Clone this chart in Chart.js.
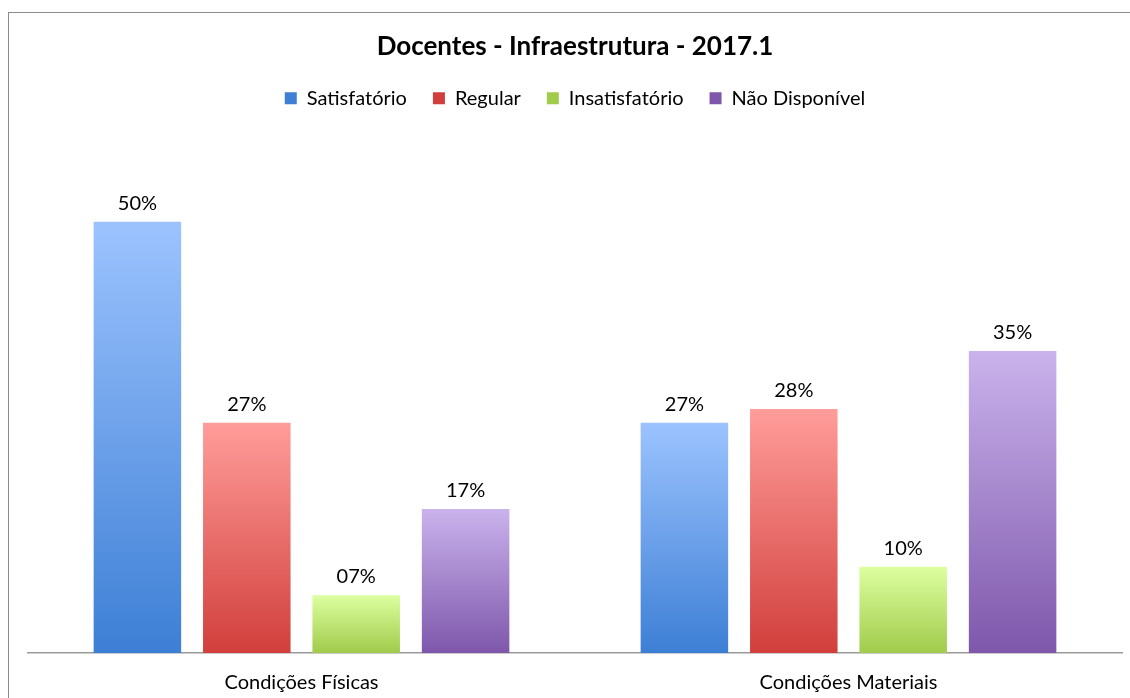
<!DOCTYPE html>
<html>
<head>
<meta charset="utf-8">
<script src="https://cdn.jsdelivr.net/npm/chart.js@4"></script>
<style>
  html, body { margin: 0; padding: 0; background: #fff; overflow: hidden; }
  #wrap { position: relative; width: 1130px; height: 698px; overflow: hidden; }
  #frame { position: absolute; left: 8px; top: 12px; width: 1130px; height: 700px; border: 1px solid #8c8c8c; box-sizing: border-box; }
  canvas { position: absolute; left: 0; top: 0; }
</style>
</head>
<body>
<div id="wrap">
  <div id="frame"></div>
  <canvas id="chart" width="1130" height="720"></canvas>
</div>
<script>
// Dados do gráfico
const categorias = ['Condições Físicas', 'Condições Materiais'];
const series = ['Satisfatório', 'Regular', 'Insatisfatório', 'Não Disponível'];
const satisfatorio = [50, 26.7];
const regular = [26.7, 28.3];
const insatisfatorio = [6.7, 10];
const naoDisponivel = [16.7, 35];

// cores (topo, base) de cada série
const cores = [
    ['#9cc3fe', '#3d7fd5'],
    ['#ff9d9a', '#d13f3c'],
    ['#ddffa0', '#a0cb4b'],
    ['#cab3ec', '#7e57ab']
];

function gradiente(i) {
    return function (ctx) {
        const chart = ctx.chart;
        if (!chart.chartArea || ctx.raw === undefined) return cores[i][1];
        const y = chart.scales.y;
        const topo = y.getPixelForValue(ctx.raw);
        const base = y.getPixelForValue(0);
        const g = chart.ctx.createLinearGradient(0, topo, 0, base);
        g.addColorStop(0, cores[i][0]);
        g.addColorStop(1, cores[i][1]);
        return g;
    };
}

const valores = [satisfatorio, regular, insatisfatorio, naoDisponivel];

// rótulos em cima das barras
const rotulos = {
    id: 'rotulos',
    afterDatasetsDraw(chart) {
        const c = chart.ctx;
        c.save();
        c.font = '20px Lato';
        c.fillStyle = '#000';
        c.textAlign = 'center';
        c.textBaseline = 'alphabetic';
        chart.data.datasets.forEach((ds, i) => {
            chart.getDatasetMeta(i).data.forEach((bar, j) => {
                const txt = String(Math.round(ds.data[j])).padStart(2, '0') + '%';
                c.fillText(txt, bar.x, bar.y - 12);
            });
        });
        c.restore();
    }
};

new Chart(document.getElementById('chart'), {
    type: 'bar',
    data: {
        labels: categorias,
        datasets: series.map((nome, i) => ({
            label: nome,
            data: valores[i],
            backgroundColor: gradiente(i),
            categoryPercentage: 0.8,
            barPercentage: 0.8
        }))
    },
    options: {
        responsive: false,
        animation: false,
        layout: { padding: { left: 28, right: 8, top: 31, bottom: 7 } },
        plugins: {
            title: {
                display: true,
                text: 'Docentes - Infraestrutura - 2017.1',
                color: '#000',
                font: { family: 'Lato', size: 26, weight: 'bold' },
                padding: { top: 0, bottom: 0 }
            },
            legend: {
                position: 'top',
                labels: {
                    color: '#000',
                    font: { family: 'Lato', size: 20 },
                    boxWidth: 12,
                    boxHeight: 12,
                    padding: 26,
                    generateLabels(chart) {
                        return chart.data.datasets.map((ds, i) => ({
                            text: ds.label,
                            fillStyle: cores[i][1],
                            strokeStyle: cores[i][1],
                            lineWidth: 0,
                            datasetIndex: i
                        }));
                    }
                }
            },
            tooltip: { enabled: false }
        },
        scales: {
            x: {
                grid: { display: false, drawTicks: false },
                border: { display: true, color: '#9a9a9a', width: 1.5 },
                ticks: { color: '#000', font: { family: 'Lato', size: 20 }, padding: 18 }
            },
            y: {
                display: false,
                min: 0,
                max: 62
            }
        }
    },
    plugins: [rotulos]
});
</script>
</body>
</html>
